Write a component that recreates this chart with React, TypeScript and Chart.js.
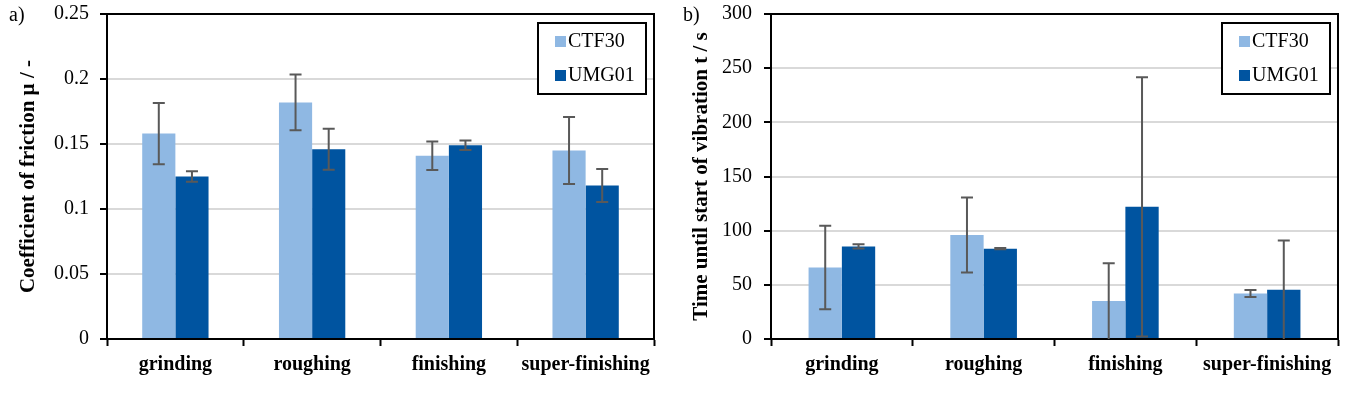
import React, { useEffect, useRef } from "react";
import { Chart, registerables } from "chart.js";

Chart.register(...registerables);

const categories = ["grinding", "roughing", "finishing", "super-finishing"];
const seriesNames = ["CTF30", "UMG01"];

const frictionCTF30 = [0.158, 0.182, 0.141, 0.145];
const frictionCTF30Err = [0.0236, 0.0214, 0.011, 0.0258];
const frictionUMG01 = [0.125, 0.146, 0.149, 0.118];
const frictionUMG01Err = [0.004, 0.0158, 0.0036, 0.0127];

const timeCTF30 = [66, 96, 35, 42];
const timeCTF30Err = [38.5, 34.7, 35, 3.3];
const timeUMG01 = [85.5, 83.4, 122, 45.5];
const timeUMG01Err = [2, 0.5, 119.6, 45.5];

const frictionTicks = [0, 0.05, 0.1, 0.15, 0.2, 0.25];
const timeTicks = [0, 50, 100, 150, 200, 250, 300];

const LIGHT = "#8FB8E3";
const DARK = "#0054A0";
const SERIF = "'Liberation Serif', 'Times New Roman', serif";

const frameAndErrors = {
  id: "frameAndErrors",
  afterDatasetsDraw(chart: any) {
    const ctx = chart.ctx;
    const a = chart.chartArea;
    ctx.save();
    ctx.strokeStyle = "#000";
    ctx.lineWidth = 2;
    ctx.strokeRect(a.left, a.top, a.right - a.left, a.bottom - a.top);
    const y = chart.scales.y;
    chart.data.datasets.forEach((ds: any, i: number) => {
      const meta = chart.getDatasetMeta(i);
      meta.data.forEach((el: any, j: number) => {
        const v = ds.data[j];
        const e = ds.errors[j];
        const lo = Math.max(v - e, y.min);
        const hi = v + e;
        const x = el.x;
        const yl = y.getPixelForValue(lo);
        const yh = y.getPixelForValue(hi);
        ctx.strokeStyle = "#595959";
        ctx.lineWidth = 2;
        ctx.beginPath();
        ctx.moveTo(x, yl);
        ctx.lineTo(x, yh);
        ctx.moveTo(x - 6, yh);
        ctx.lineTo(x + 6, yh);
        if (v - e > y.min + 1e-9) {
          ctx.moveTo(x - 6, yl);
          ctx.lineTo(x + 6, yl);
        }
        ctx.stroke();
      });
    });
    ctx.restore();
  },
};

const boxLegend = {
  id: "boxLegend",
  afterDraw(chart: any) {
    const ctx = chart.ctx;
    const a = chart.chartArea;
    const w = 108;
    const h = 71;
    const left = a.right - 8 - w;
    const top = a.top + 9;
    ctx.save();
    ctx.fillStyle = "#fff";
    ctx.fillRect(left, top, w, h);
    ctx.strokeStyle = "#000";
    ctx.lineWidth = 2;
    ctx.strokeRect(left, top, w, h);
    const rows = [18, 52];
    chart.data.datasets.forEach((ds: any, i: number) => {
      const cy = top + rows[i];
      ctx.fillStyle = ds.backgroundColor;
      ctx.fillRect(left + 17, cy - 5, 11, 11);
      ctx.fillStyle = "#000";
      ctx.font = `20px ${SERIF}`;
      ctx.textBaseline = "middle";
      ctx.textAlign = "left";
      ctx.fillText(ds.label, left + 30, cy + 1);
    });
    ctx.restore();
  },
};

function makeConfig(p: {
  a: number[];
  aErr: number[];
  b: number[];
  bErr: number[];
  ticks: number[];
  title: string;
  yWidth: number;
  titlePad: number;
  catPct: number;
  tickPad: number;
}): any {
  return {
    type: "bar",
    data: {
      labels: categories,
      datasets: [
        { label: seriesNames[0], data: p.a, errors: p.aErr, backgroundColor: LIGHT },
        { label: seriesNames[1], data: p.b, errors: p.bErr, backgroundColor: DARK },
      ],
    },
    plugins: [frameAndErrors, boxLegend],
    options: {
      animation: false,
      responsive: false,
      devicePixelRatio: 1,
      layout: { padding: { left: 0, right: 10, top: 14, bottom: 0 } },
      datasets: { bar: { categoryPercentage: p.catPct, barPercentage: 1 } },
      plugins: { legend: { display: false }, tooltip: { enabled: false } },
      scales: {
        x: {
          grid: {
            drawOnChartArea: false,
            drawTicks: true,
            tickLength: 7,
            tickWidth: 2,
            tickColor: "#000",
            offset: true,
          },
          border: { color: "#000", width: 2 },
          ticks: {
            color: "#000",
            padding: 7,
            maxRotation: 0,
            autoSkip: false,
            font: { family: SERIF, size: 20, weight: "bold" },
          },
          afterFit: (s: any) => {
            s.height = 59;
            s.paddingLeft = 0;
            s.paddingRight = 0;
          },
        },
        y: {
          min: p.ticks[0],
          max: p.ticks[p.ticks.length - 1],
          afterBuildTicks: (s: any) => {
            s.ticks = p.ticks.map((v) => ({ value: v }));
          },
          grid: {
            color: "#D9D9D9",
            lineWidth: 2,
            drawTicks: true,
            tickLength: 7,
            tickWidth: 2,
            tickColor: "#000",
          },
          border: { color: "#000", width: 2 },
          ticks: {
            color: "#000",
            padding: p.tickPad,
            font: { family: SERIF, size: 20 },
            callback: (v: any) => String(Number(v)),
          },
          title: {
            display: true,
            text: p.title,
            color: "#000",
            padding: { top: p.titlePad, bottom: 0 },
            font: { family: SERIF, size: 21, weight: "bold" },
          },
          afterFit: (s: any) => {
            s.width = p.yWidth;
            s.paddingTop = 0;
            s.paddingBottom = 0;
          },
        },
      },
    },
  };
}

function ChartCanvas(props: { config: any; width: number; left: number }) {
  const ref = useRef<HTMLCanvasElement | null>(null);
  useEffect(() => {
    if (!ref.current) return;
    const chart = new Chart(ref.current, props.config);
    return () => chart.destroy();
  }, []);
  return (
    <canvas
      ref={ref}
      width={props.width}
      height={398}
      style={{ position: "absolute", left: props.left, top: 0, width: props.width, height: 398 }}
    />
  );
}

const labelStyle: React.CSSProperties = {
  position: "absolute",
  top: 4,
  fontFamily: SERIF,
  fontSize: 20,
  lineHeight: "20px",
  color: "#000",
};

export default function App() {
  const left = makeConfig({
    a: frictionCTF30,
    aErr: frictionCTF30Err,
    b: frictionUMG01,
    bErr: frictionUMG01Err,
    ticks: frictionTicks,
    title: "Coefficient of friction µ / -",
    yWidth: 107,
    titlePad: 16,
    catPct: 0.485,
    tickPad: 11,
  });
  const right = makeConfig({
    a: timeCTF30,
    aErr: timeCTF30Err,
    b: timeUMG01,
    bErr: timeUMG01Err,
    ticks: timeTicks,
    title: "Time until start of vibration t / s",
    yWidth: 103,
    titlePad: 21,
    catPct: 0.47,
    tickPad: 12,
  });
  return (
    <div style={{ position: "absolute", left: 0, top: 0, width: 1348, height: 398, background: "#fff" }}>
      <ChartCanvas config={left} width={664} left={0} />
      <ChartCanvas config={right} width={680} left={668} />
      <div style={{ ...labelStyle, left: 9 }}>a)</div>
      <div style={{ ...labelStyle, left: 683 }}>b)</div>
    </div>
  );
}
